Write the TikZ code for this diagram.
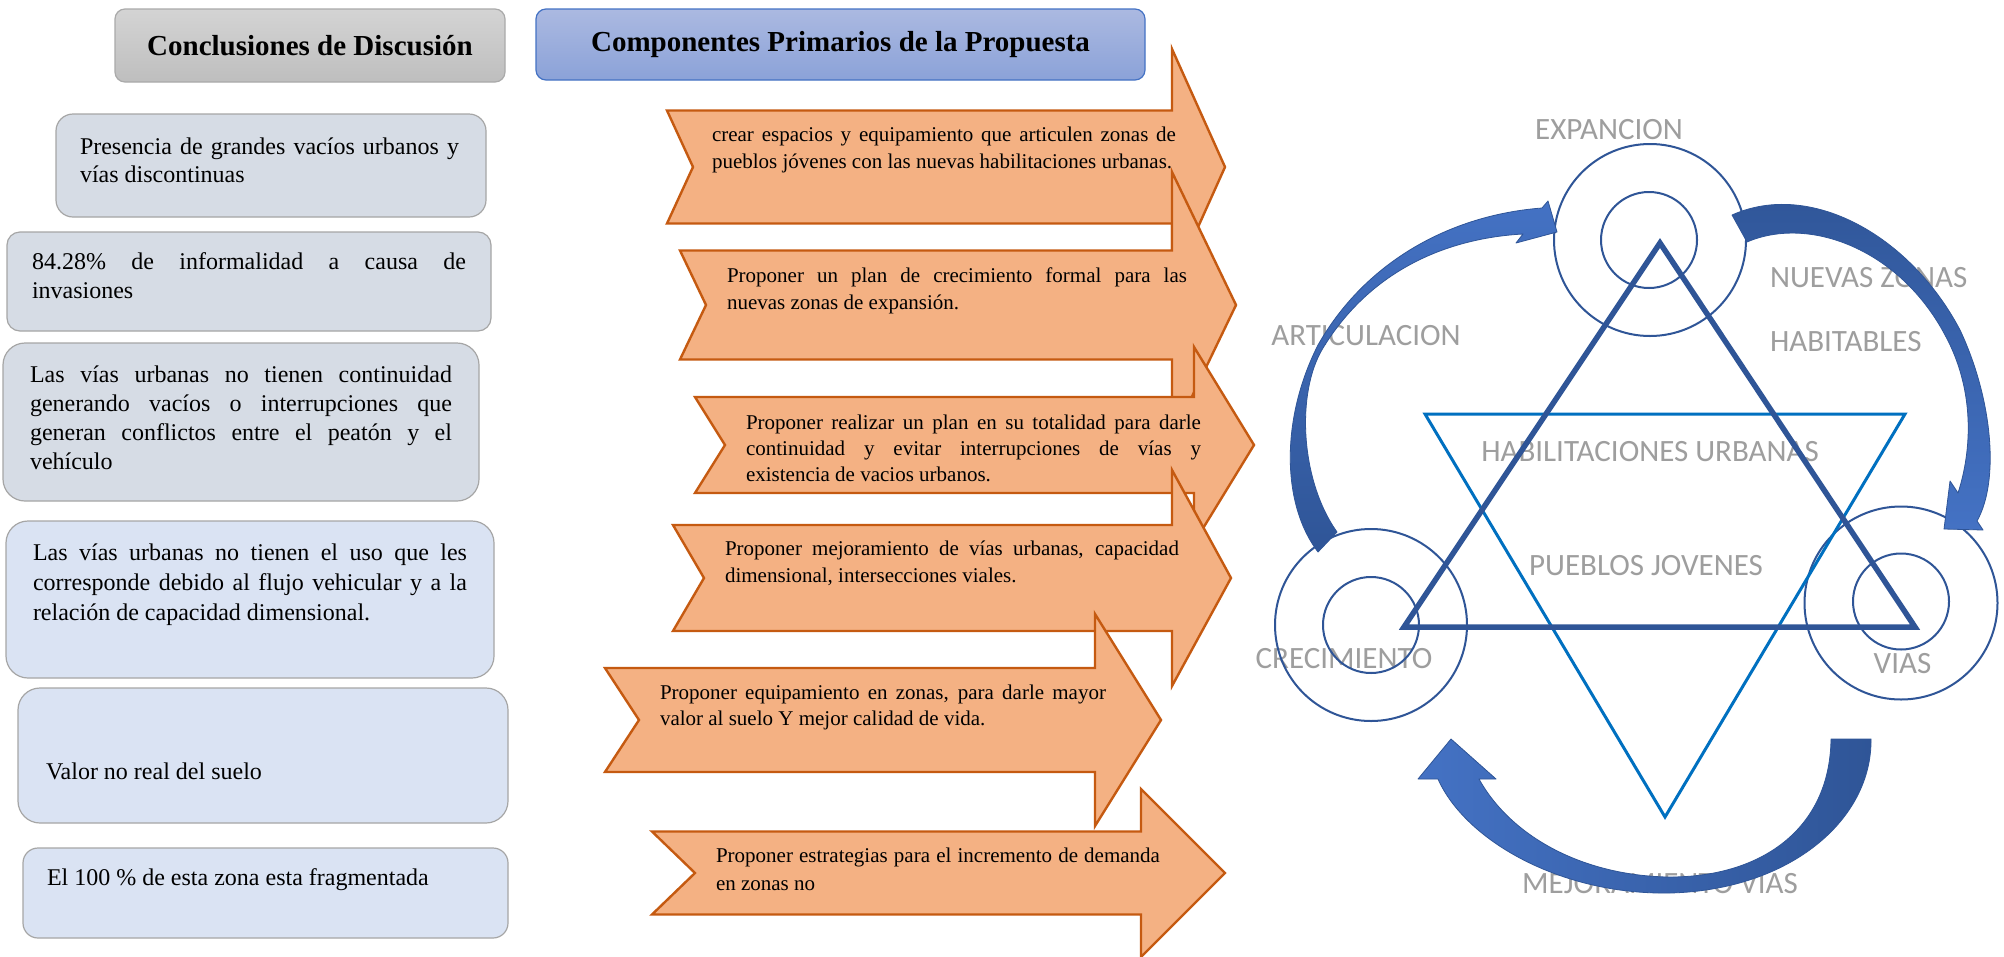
\documentclass[tikz,border=0pt]{standalone}
\usepackage{fontspec}
\setmainfont{Liberation Serif}
\newfontfamily\lblfont{Carlito}
\definecolor{darkblue}{RGB}{47,85,151}
\definecolor{medblue}{RGB}{68,114,196}
\definecolor{triblue}{RGB}{0,112,192}
\definecolor{orangefill}{RGB}{244,177,131}
\definecolor{orangeline}{RGB}{197,90,17}
\definecolor{boxfilla}{RGB}{214,220,229}
\definecolor{boxfillb}{RGB}{218,227,243}
\definecolor{boxline}{RGB}{166,166,166}
\definecolor{hdrgraytop}{RGB}{212,212,212}
\definecolor{hdrgraybot}{RGB}{190,190,190}
\definecolor{hdrgrayline}{RGB}{170,170,170}
\definecolor{hdrbluetop}{RGB}{171,185,225}
\definecolor{hdrbluebot}{RGB}{139,162,216}
\definecolor{hdrblueline}{RGB}{68,114,196}
\definecolor{lblgray}{RGB}{158,158,158}
\newcommand{\jl}[2]{\makebox[#1pt][s]{\spaceskip=0pt\xspaceskip=0pt\relax #2}}
\newcommand{\lastl}[2]{\makebox[#1pt][l]{\spaceskip=0pt\xspaceskip=0pt\relax #2}}
\begin{document}
\begin{tikzpicture}[x=1pt,y=-1pt,
  every node/.style={inner sep=0pt, outer sep=0pt},
  hdr/.style={rectangle, rounded corners=10pt, line width=1.2pt, anchor=north west, font=\bfseries\fontsize{29}{34}\selectfont},
  hdrgray/.style={hdr, draw=hdrgrayline, top color=hdrgraytop, bottom color=hdrgraybot},
  hdrblue/.style={hdr, draw=hdrblueline, top color=hdrbluetop, bottom color=hdrbluebot},
  lbox/.style={rectangle, draw=boxline, line width=1.2pt, anchor=north west},
  lboxa/.style={lbox, fill=boxfilla},
  lboxb/.style={lbox, fill=boxfillb},
  btxt/.style={anchor=base west, font=\fontsize{24}{29}\selectfont},
  otxt/.style={anchor=base west, font=\fontsize{21}{27}\selectfont},
  oarrow/.style={draw=orangeline, fill=orangefill, line width=2.4pt, line join=miter},
  ring/.style={circle, draw=darkblue, line width=2pt, inner sep=0pt},
  lbl/.style={text=lblgray, font=\lblfont\fontsize{31}{36}\selectfont},
  carrow/.style={draw=darkblue, line width=0.8pt, line join=round},
]
\useasboundingbox (0,0) rectangle (2004,956);
\fill[white] (0,0) rectangle (2004,956);

% headers
\node[hdrgray, minimum width=390, minimum height=73] (hconc) at (115,9) {Conclusiones de Discusión};
\node[hdrblue, minimum width=609, minimum height=71] (hcomp) at (536,9) {Componentes Primarios de la Propuesta};

% left boxes
\node[lboxa, rounded corners=17pt, minimum width=430, minimum height=103] (b1) at (56,114) {};
\node[lboxa, rounded corners=13pt, minimum width=484, minimum height=99] (b2) at (7,232) {};
\node[lboxa, rounded corners=22pt, minimum width=476, minimum height=158] (b3) at (3,343) {};
\node[lboxb, rounded corners=22pt, minimum width=488, minimum height=157] (b4) at (6,521) {};
\node[lboxb, rounded corners=22pt, minimum width=490, minimum height=135] (b5) at (18,688) {};
\node[lboxb, rounded corners=15pt, minimum width=485, minimum height=90] (b6) at (23,848) {};

\node[btxt, text width=379, font=\fontsize{24}{28}\selectfont] (b1t) at (80,154) {\jl{379}{Presencia de grandes vacíos urbanos y}\\\lastl{379}{vías discontinuas}};
\node[btxt, text width=434] (b2t) at (32,269) {\jl{434}{84.28\% de informalidad a causa de}\\\lastl{434}{invasiones}};
\node[btxt, text width=422, font=\fontsize{24}{29.3}\selectfont] (b3t) at (30,382) {\jl{422}{Las vías urbanas no tienen continuidad}\\\jl{422}{generando vacíos o interrupciones que}\\\jl{422}{generan conflictos entre el peatón y el}\\\lastl{422}{vehículo}};
\node[btxt, text width=434, font=\fontsize{24}{30}\selectfont] (b4t) at (33,560) {\jl{434}{Las vías urbanas no tienen el uso que les}\\\jl{434}{corresponde debido al flujo vehicular y a la}\\\lastl{434}{relación de capacidad dimensional.}};
\node[btxt] (b5t) at (46,779) {Valor no real del suelo};
\node[btxt] (b6t) at (47,885) {El 100 \% de esta zona esta fragmentada};

% orange arrows
\draw[oarrow] (667,110.5) -- (1172,110.5) -- (1172,49) -- (1225,167) -- (1172,285) -- (1172,223.5) -- (667,223.5) -- (693,167) -- cycle;
\draw[oarrow] (680,250.5) -- (1172,250.5) -- (1172,172) -- (1236,305) -- (1172,438) -- (1172,359.5) -- (680,359.5) -- (706,305) -- cycle;
\draw[oarrow] (695,397) -- (1194,397) -- (1194,347) -- (1254,445) -- (1194,543) -- (1194,493) -- (695,493) -- (725,445) -- cycle;
\draw[oarrow] (673,525) -- (1172,525) -- (1172,470) -- (1231,578) -- (1172,686) -- (1172,631) -- (673,631) -- (704,578) -- cycle;
\draw[oarrow] (605,668) -- (1095,668) -- (1095,614) -- (1161,720) -- (1095,826) -- (1095,772) -- (605,772) -- (639,720) -- cycle;
\draw[oarrow] (652,831.5) -- (1141,831.5) -- (1141,789) -- (1225,873) -- (1141,957) -- (1141,914.5) -- (652,914.5) -- (695,873) -- cycle;

\node[otxt, text width=464] (a1t) at (712,141) {\jl{464}{crear espacios y equipamiento que articulen zonas de}\\\lastl{464}{pueblos jóvenes con las nuevas habilitaciones urbanas.}};
\node[otxt, text width=460] (a2t) at (727,282) {\jl{460}{Proponer un plan de crecimiento formal para las}\\\lastl{460}{nuevas zonas de expansión.}};
\node[otxt, text width=455, font=\fontsize{21}{26}\selectfont] (a3t) at (746,429) {\jl{455}{Proponer realizar un plan en su totalidad para darle}\\\jl{455}{continuidad y evitar interrupciones de vías y}\\\lastl{455}{existencia de vacios urbanos.}};
\node[otxt, text width=454, font=\fontsize{21}{27.5}\selectfont] (a4t) at (725,555) {\jl{454}{Proponer mejoramiento de vías urbanas, capacidad}\\\lastl{454}{dimensional, intersecciones viales.}};
\node[otxt, text width=446, font=\fontsize{21}{26.5}\selectfont] (a5t) at (660,699) {\jl{446}{Proponer equipamiento en zonas, para darle mayor}\\\lastl{446}{valor al suelo Y mejor calidad de vida.}};
\node[otxt, text width=444, font=\fontsize{21}{28}\selectfont] (a6t) at (716,862) {\jl{444}{Proponer estrategias para el incremento de demanda}\\\lastl{444}{en zonas no}};

% labels (under the shapes)
\node[lbl] (lexp) at (1609,130) {EXPANCION};
\node[lbl, anchor=west] (lnue) at (1770,277.5) {NUEVAS ZONAS};
\node[lbl, anchor=west] (lhab) at (1770,341.7) {HABITABLES};
\node[lbl] (lart) at (1366,336) {ARTICULACION};
\node[lbl] (lhur) at (1650,452) {HABILITACIONES URBANAS};
\node[lbl] (lpue) at (1646,566) {PUEBLOS JOVENES};
\node[lbl] (lcre) at (1344,658.5) {CRECIMIENTO};
\node[lbl] (lvia) at (1902.5,664) {VIAS};
\node[lbl] (lmej) at (1660,883.5) {MEJORAMIENTO VIAS};

% circles
\node[ring, minimum size=192] (cEo) at (1650,240) {};
\node[ring, minimum size=96] (cEi) at (1649,240) {};
\node[ring, minimum size=192] (cCo) at (1371,625) {};
\node[ring, minimum size=96] (cCi) at (1371,625) {};
\node[ring, minimum size=193] (cVo) at (1901,603) {};
\node[ring, minimum size=96] (cVi) at (1901,601.5) {};

% triangles
\coordinate (tA) at (1660,243);
\coordinate (tB) at (1915,627);
\coordinate (tC) at (1404,627);
\coordinate (iA) at (1425,414);
\coordinate (iB) at (1905,414);
\coordinate (iC) at (1665,817);
\draw[triblue, line width=3pt, line join=miter] (iA) -- (iB) -- (iC) -- cycle;
\draw[darkblue, line width=5.5pt, line join=miter] (tA) -- (tB) -- (tC) -- cycle;

% curved block arrows
\draw[carrow, top color=medblue, bottom color=darkblue]
  (1318,552) .. controls (1282,505) and (1280,420) .. (1318,345)
  .. controls (1365,262) and (1450,215) .. (1542,208)
  -- (1548,201) -- (1557,232) -- (1516,243) -- (1523,234)
  .. controls (1450,238) and (1372,268) .. (1323,348)
  .. controls (1296,392) and (1300,480) .. (1337,532) -- cycle;
\draw[carrow, top color=darkblue, bottom color=medblue]
  (1732,215) .. controls (1810,180) and (1910,235) .. (1960,330)
  .. controls (1992,398) and (2000,480) .. (1977,521)
  -- (1983,530) -- (1944,529) -- (1950,481) -- (1958,493)
  .. controls (1972,450) and (1975,390) .. (1945,335)
  .. controls (1900,250) and (1810,215) .. (1747,242) -- cycle;
\draw[carrow, left color=medblue, right color=darkblue]
  (1831,739) -- (1871,739)
  .. controls (1872,820) and (1790,890) .. (1670,893)
  .. controls (1560,895) and (1465,840) .. (1438,779)
  -- (1418,779) -- (1451,739) -- (1496,779) -- (1479,779)
  .. controls (1510,835) and (1580,875) .. (1667,877)
  .. controls (1760,878) and (1830,830) .. (1831,739) -- cycle;
\end{tikzpicture}
\end{document}
